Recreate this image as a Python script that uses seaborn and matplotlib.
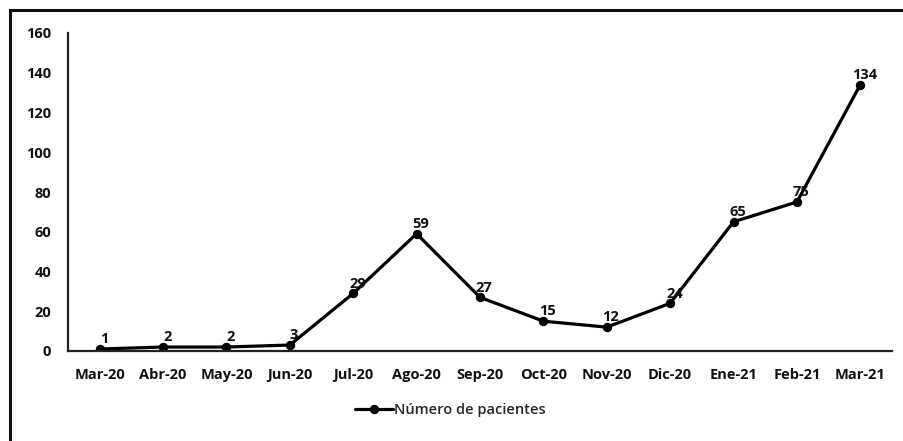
import matplotlib
matplotlib.use("Agg")
import matplotlib.pyplot as plt
import seaborn as sns
import pandas as pd
from matplotlib.patches import Rectangle

months = ["Mar-20", "Abr-20", "May-20", "Jun-20", "Jul-20", "Ago-20", "Sep-20",
          "Oct-20", "Nov-20", "Dic-20", "Ene-21", "Feb-21", "Mar-21"]
patients = [1, 2, 2, 3, 29, 59, 27, 15, 12, 24, 65, 75, 134]
series_name = "Número de pacientes"
y_ticks = [0, 20, 40, 60, 80, 100, 120, 140, 160]

sns.set_theme(style="white")
plt.rcParams["font.family"] = ["Open Sans", "DejaVu Sans"]
plt.rcParams["font.weight"] = "bold"

df = pd.DataFrame({"Mes": months, "Pacientes": patients})

fig = plt.figure(figsize=(9.04, 4.41), dpi=100)
ax = fig.add_axes([68 / 904, 1 - 351 / 441, (892 - 68) / 904, (351 - 33) / 441])

sns.lineplot(data=df, x="Mes", y="Pacientes", ax=ax, color="black", lw=2.3,
             marker="o", markersize=6, markeredgecolor="black", sort=False,
             label=series_name)

ax.set_xlim(-0.5, len(months) - 0.5)
ax.set_ylim(0, 160)
ax.set_yticks(y_ticks)
ax.set_xlabel("")
ax.set_ylabel("")
ax.tick_params(axis="both", length=0, labelsize=10.5, colors="#111111")
ax.tick_params(axis="x", pad=12)
ax.tick_params(axis="y", pad=12)
for lbl in ax.get_xticklabels() + ax.get_yticklabels():
    lbl.set_fontweight("bold")

for side in ["top", "right"]:
    ax.spines[side].set_visible(False)
for side in ["left", "bottom"]:
    ax.spines[side].set_color("#222222")
    ax.spines[side].set_linewidth(1.6)

# value labels just above each point
for i, v in enumerate(patients):
    ax.annotate(str(v), (i, v), xytext=(3, 2), textcoords="offset points",
                ha="center", va="bottom", fontsize=10.5, fontweight="bold",
                color="#111111")

leg = ax.legend(loc="center", bbox_to_anchor=(0.464, -0.185), frameon=False,
                fontsize=10.5, handlelength=2.6, handletextpad=0.1)
for t in leg.get_texts():
    t.set_fontweight("semibold")

# outer chart frame
fig.patches.append(Rectangle((10 / 904, -0.1), 1.2, 1 - 10 / 441 + 0.1,
                             transform=fig.transFigure, fill=False,
                             edgecolor="#111111", linewidth=2.2))

fig.savefig("out.png", dpi=100, facecolor="white")
